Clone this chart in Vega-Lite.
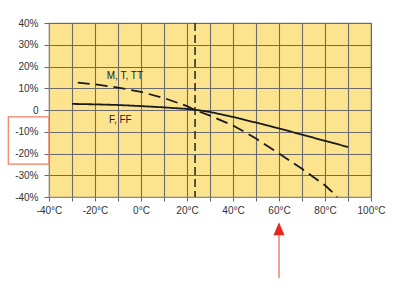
{
  "$schema": "https://vega.github.io/schema/vega-lite/v6.json",
  "autosize": "none",
  "width": 322,
  "height": 174,
  "padding": {"left": 49, "top": 23, "right": 29, "bottom": 94},
  "background": "white",
  "view": {"fill": "#fce48e", "stroke": "#888", "strokeWidth": 1.2},
  "config": {
    "font": "Liberation Sans",
    "axis": {
      "labelFont": "Liberation Sans",
      "labelFontSize": 10,
      "labelColor": "#333",
      "gridColor": "#6a6a6a",
      "gridOpacity": 1,
      "gridWidth": 1.1,
      "domainColor": "#888",
      "tickColor": "#666",
      "title": null
    }
  },
  "datasets": {
    "curves": [
      {"series": "F, FF", "t": -30, "v": 2.8},
      {"series": "F, FF", "t": -20, "v": 2.6},
      {"series": "F, FF", "t": -10, "v": 2.3},
      {"series": "F, FF", "t": 0, "v": 1.8},
      {"series": "F, FF", "t": 10, "v": 1.2},
      {"series": "F, FF", "t": 20, "v": 0.5},
      {"series": "F, FF", "t": 25, "v": -0.1},
      {"series": "F, FF", "t": 30, "v": -0.9},
      {"series": "F, FF", "t": 40, "v": -3.2},
      {"series": "F, FF", "t": 50, "v": -5.8},
      {"series": "F, FF", "t": 60, "v": -8.5},
      {"series": "F, FF", "t": 70, "v": -11.3},
      {"series": "F, FF", "t": 80, "v": -14.2},
      {"series": "F, FF", "t": 90, "v": -17},
      {"series": "M, T, TT", "t": -27.5, "v": 12.6},
      {"series": "M, T, TT", "t": -20, "v": 11.8},
      {"series": "M, T, TT", "t": -10, "v": 10.3},
      {"series": "M, T, TT", "t": 0, "v": 8.3},
      {"series": "M, T, TT", "t": 10, "v": 5.5},
      {"series": "M, T, TT", "t": 20, "v": 1.8},
      {"series": "M, T, TT", "t": 23.5, "v": 0},
      {"series": "M, T, TT", "t": 30, "v": -2.6},
      {"series": "M, T, TT", "t": 40, "v": -7.1},
      {"series": "M, T, TT", "t": 50, "v": -13.1},
      {"series": "M, T, TT", "t": 60, "v": -20},
      {"series": "M, T, TT", "t": 70, "v": -27},
      {"series": "M, T, TT", "t": 80, "v": -34.6},
      {"series": "M, T, TT", "t": 85.4, "v": -40}
    ],
    "labels": [
      {"label": "M, T, TT", "t": -7, "v": 15.7},
      {"label": "F, FF", "t": -9, "v": -4.4}
    ],
    "vline": [{"t": 23.5, "v": 40, "v2": -40}],
    "box": [{"t": -57.7, "t2": -40, "v": -3.2, "v2": -24.9}],
    "arrow": [{"t": 60, "v": -56, "v2": -77.2}],
    "tip": [{"t": 60, "v": -54.6}]
  },
  "encoding": {
    "x": {
      "field": "t", "type": "quantitative",
      "scale": {"domain": [-40, 100], "nice": false, "zero": false},
      "axis": {
        "values": [-40, -30, -20, -10, 0, 10, 20, 30, 40, 50, 60, 70, 80, 90, 100],
        "labelExpr": "datum.value % 20 == 0 ? datum.value + '°C' : ''",
        "tickSize": 4,
        "labelPadding": 4,
        "labelFlush": false
      }
    },
    "y": {
      "field": "v", "type": "quantitative",
      "scale": {"domain": [-40, 40], "nice": false, "zero": false},
      "axis": {
        "values": [-40, -30, -20, -10, 0, 10, 20, 30, 40],
        "labelExpr": "datum.value == 0 ? '0' : datum.value + '%'",
        "tickSize": 5,
        "labelPadding": 6
      }
    }
  },
  "layer": [
    {
      "data": {"name": "curves"},
      "mark": {"type": "line", "color": "#1a1a1a", "strokeWidth": 1.8},
      "encoding": {
        "detail": {"field": "series"},
        "strokeDash": {
          "field": "series", "type": "nominal",
          "scale": {"domain": ["F, FF", "M, T, TT"], "range": [[1, 0], [12, 6]]},
          "legend": null
        }
      }
    },
    {
      "data": {"name": "vline"},
      "mark": {"type": "rule", "color": "#222", "strokeWidth": 1.5, "strokeDash": [8, 4]},
      "encoding": {
        "y2": {"field": "v2"}
      }
    },
    {
      "data": {"name": "labels"},
      "mark": {"type": "text", "fontSize": 10, "fill": "#222", "font": "Liberation Sans"},
      "encoding": {
        "text": {"field": "label"}
      }
    },
    {
      "data": {"name": "box"},
      "mark": {"type": "rect", "fill": null, "fillOpacity": 0, "stroke": "#f47c5c", "strokeWidth": 1.2},
      "encoding": {
        "x2": {"field": "t2"},
        "y2": {"field": "v2"}
      }
    },
    {
      "data": {"name": "arrow"},
      "mark": {"type": "rule", "color": "#f26a4a", "strokeWidth": 1.3},
      "encoding": {
        "y2": {"field": "v2"}
      }
    },
    {
      "data": {"name": "tip"},
      "mark": {"type": "point", "filled": true, "color": "#e8261e", "opacity": 1, "shape": "M0,-1L0.85,1L-0.85,1Z", "size": 169}
    }
  ]
}
